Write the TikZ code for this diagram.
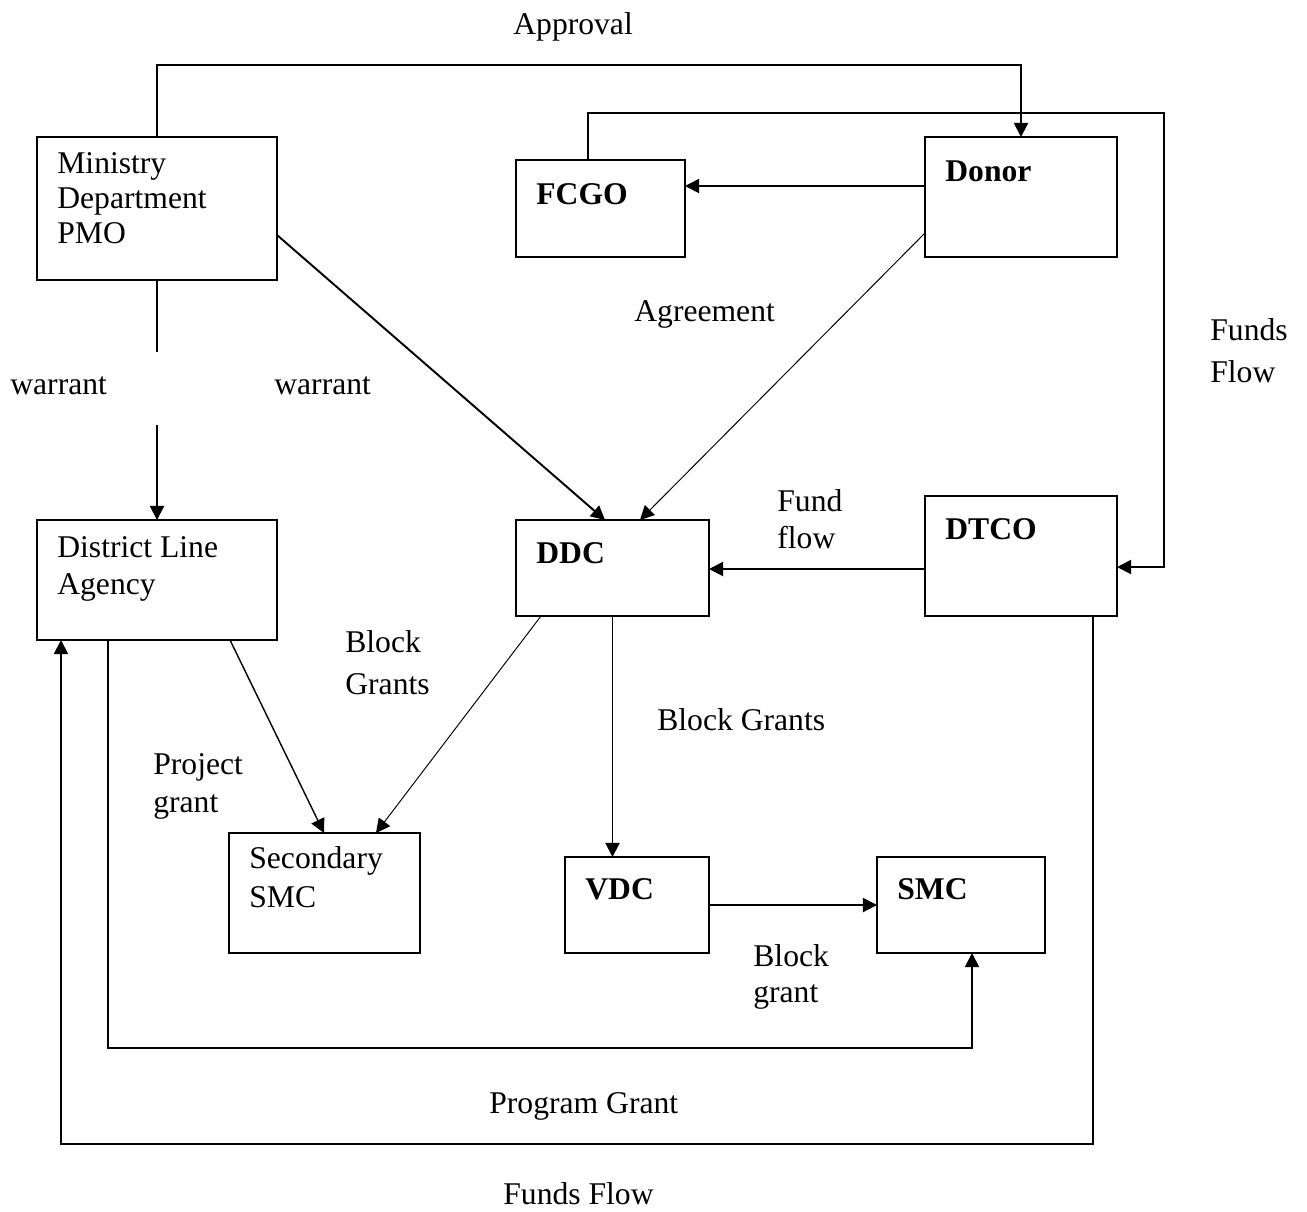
\documentclass[tikz,border=0pt]{standalone}
\usepackage{fontspec}
\setmainfont{Liberation Serif}
\usetikzlibrary{arrows.meta,calc,fit}
\begin{document}
\begin{tikzpicture}[x=0.02cm,y=-0.02cm,
  box/.style={draw,line width=1.1pt,inner sep=0pt,outer sep=0pt},
  % multi-line labels are placed by the baseline of their last line
  lbl/.style={anchor=base west,inner sep=0pt,align=left,font=\fontsize{18}{21}\selectfont},
  head/.style={lbl,font=\fontsize{18}{21}\selectfont\bfseries},
  tip/.style={-{Triangle[length=8pt,width=8pt]}},
  flow/.style={line width=1.1pt,tip},
  midflow/.style={line width=0.8pt,tip},
  thinflow/.style={line width=0.55pt,tip},
  plain/.style={line width=1.1pt}]

\useasboundingbox (0,0) rectangle (1307,1211);

% boxes
\node[box, fit={(37,137) (277,280)}] (min) {};
\node[box, fit={(516,160) (685,257)}] (fcgo) {};
\node[box, fit={(925,137) (1117,257)}] (donor) {};
\node[box, fit={(37,520) (277,640)}] (dla) {};
\node[box, fit={(516,520) (709,616)}] (ddc) {};
\node[box, fit={(925,496) (1117,616)}] (dtco) {};
\node[box, fit={(229,833) (420,953)}] (sec) {};
\node[box, fit={(565,857) (709,953)}] (vdc) {};
\node[box, fit={(877,857) (1045,953)}] (smc) {};

% box texts
\node[lbl, font=\fontsize{18}{19.9}\selectfont] (t-min) at (57,243) {Ministry\\Department\\PMO};
\node[head] (t-fcgo) at (536,204) {FCGO};
\node[head] (t-donor) at (945,181) {Donor};
\node[lbl] (t-dla) at (57,594) {District Line\\Agency};
\node[head] (t-ddc) at (536,563) {DDC};
\node[head] (t-dtco) at (945,539) {DTCO};
\node[lbl, font=\fontsize{18}{22.2}\selectfont] (t-sec) at (249,907) {Secondary\\SMC};
\node[head] (t-vdc) at (585,899) {VDC};
\node[head] (t-smc) at (897,899) {SMC};

% approval: ministry to donor over the top
\coordinate (apr) at (600,65);
\draw[flow] (min.north) |- (apr) -| (donor.north);

% funds flow: fcgo to dtco round the right side
\coordinate (fftop) at (1164,113);
\draw[flow] ($(fcgo.north west)+(72,0)$) |- (fftop) |- ($(dtco.north east)+(0,71)$);

% donor to fcgo
\coordinate (df) at ($(donor.north west)+(0,49)$);
\draw[flow] (df) -- (fcgo.east |- df);

% warrants
\draw[flow] ($(min.north east)+(0,98)$) -- ($(ddc.north west)+(89,0)$);
\coordinate (w1) at ($(min.south)+(0,72)$);
\coordinate (w2) at ($(dla.north)+(0,-95)$);
\draw[plain] (min.south) -- (w1);
\draw[flow] (w2) -- (dla.north);

% agreement
\draw[thinflow] ($(donor.north west)+(0,96)$) -- ($(ddc.north west)+(124,0)$);

% fund flow dtco to ddc
\coordinate (td) at ($(dtco.north west)+(0,73)$);
\draw[flow] (td) -- (ddc.east |- td);

% block grants
\draw[flow] (ddc.south) -- (ddc.south |- vdc.north);
\draw[flow] (vdc.east) -- (vdc.east -| smc.west);
\draw[thinflow] ($(ddc.south west)+(25,0)$) -- ($(sec.north west)+(147,0)$);

% project grant
\draw[midflow] ($(dla.south west)+(193,0)$) -- ($(sec.north west)+(95,0)$);

% program grant
\coordinate (pg) at (500,1048);
\draw[flow] ($(dla.south west)+(71,0)$) |- (pg) -| ($(smc.south west)+(95,0)$);

% funds flow back to district line agency
\coordinate (fb) at (500,1144);
\draw[flow] ($(dtco.south west)+(168,0)$) |- (fb) -| ($(dla.south west)+(24,0)$);

% connector labels
\node[lbl] (t-appr) at (513,34) {Approval};
\node[lbl] (t-agr) at (634,321) {Agreement};
\node[lbl, font=\fontsize{18}{23.9}\selectfont] (t-ff) at (1210,382) {Funds\\Flow};
\node[lbl] (t-w1) at (10,394) {warrant};
\node[lbl] (t-w2) at (274,394) {warrant};
\node[lbl] (t-fund) at (777,548) {Fund\\flow};
\node[lbl, font=\fontsize{18}{23.9}\selectfont] (t-bg1) at (345,694) {Block\\Grants};
\node[lbl] (t-bg2) at (657,730) {Block Grants};
\node[lbl, font=\fontsize{18}{21.6}\selectfont] (t-pg) at (153,812) {Project\\grant};
\node[lbl, font=\fontsize{18}{20.5}\selectfont] (t-bg3) at (753,1002) {Block\\grant};
\node[lbl] (t-prog) at (489,1113) {Program Grant};
\node[lbl] (t-fflow) at (503,1204) {Funds Flow};
\end{tikzpicture}
\end{document}
